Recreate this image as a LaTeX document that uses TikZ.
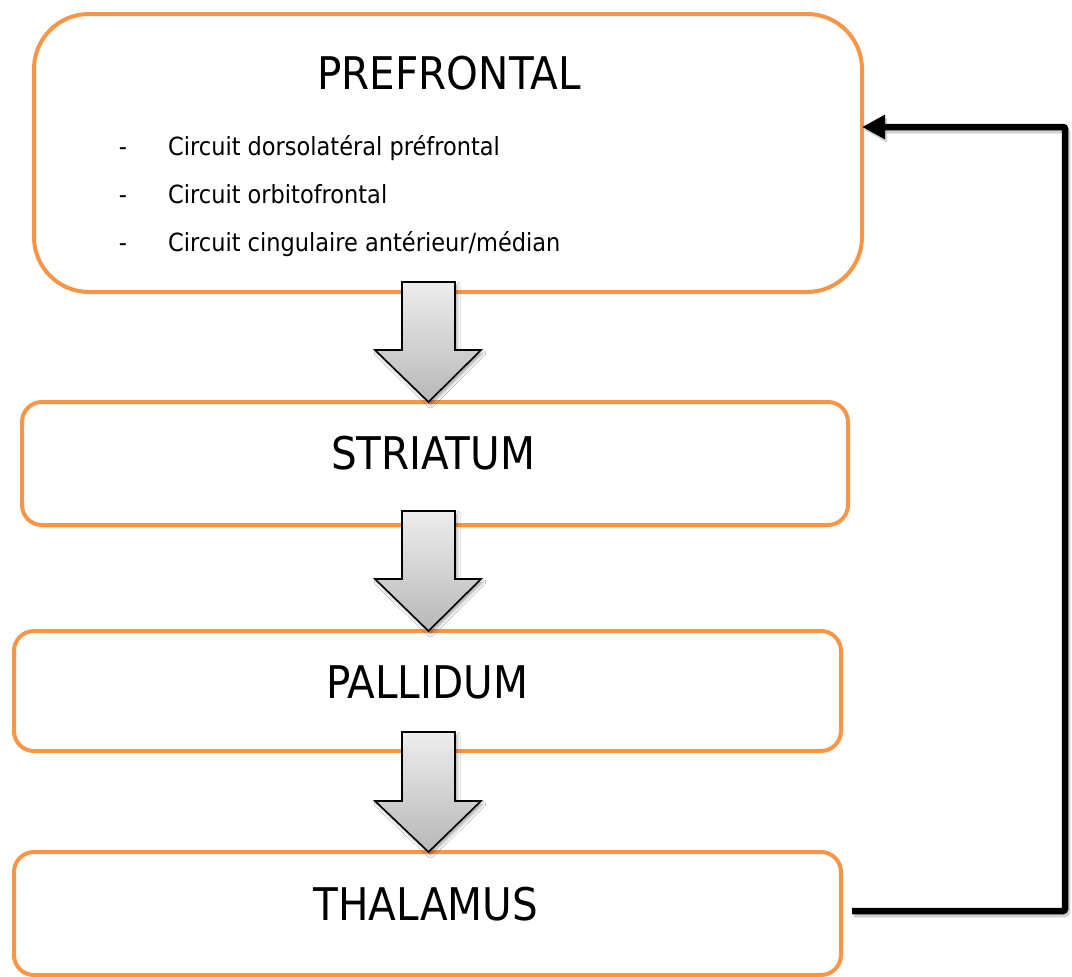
\documentclass[tikz,border=0pt]{standalone}
\usepackage{fontspec}
\setmainfont{DejaVu Sans Condensed}
\usetikzlibrary{arrows.meta,shadows.blur}
\definecolor{boxorange}{HTML}{F79646}
\newcommand\blockdown[3]{%
  \path[blockarr] (402,#1) -- (455,#1) -- (455,#2) -- (481,#2) -- (428.5,#3) -- (375,#2) -- (402,#2) -- cycle;}
\begin{document}
\begin{tikzpicture}[x=1pt,y=-1pt,
  box/.style={draw=boxorange, line width=4pt, rounded corners=20pt, fill=white,
    minimum width=827pt, minimum height=122pt, inner sep=0pt, outer sep=0pt},
  title/.style={font=\fontsize{45}{54}\selectfont, anchor=base, inner sep=0pt},
  item/.style={font=\fontsize{25}{30}\selectfont, anchor=base west, inner sep=0pt},
  blockarr/.style={draw=black, line width=1.6pt, line join=miter,
    top color=black!7, bottom color=black!28,
    blur shadow={shadow xshift=2pt, shadow yshift=-3pt, shadow blur radius=3pt, shadow opacity=35}},
  fb/.style={draw=black, line width=6.5pt, rounded corners=2pt, -{Triangle[length=23pt,width=23pt]}},
  fbshadow/.style={draw=black!40, opacity=0.45, line width=6.5pt, rounded corners=2pt, -{Triangle[length=23pt,width=23pt]}}]
\useasboundingbox (0,0) rectangle (1072,977);
\fill[white] (0,0) rectangle (1072,977);
% boxes
\node[box, rounded corners=55pt, minimum width=828pt, minimum height=278pt] (pf) at (448,153) {};
\node[box, minimum width=826pt, minimum height=123pt] (st) at (435,463.5) {};
\node[box, minimum height=120pt] (pa) at (427.5,691) {};
\node[box, minimum height=123pt] (th) at (427.5,913.5) {};
% titles
\node[title] (pft) at (449,89) {PREFRONTAL};
\node[title] (stt) at (433,469) {STRIATUM};
\node[title] (pat) at (427,698) {PALLIDUM};
\node[title] (tht) at (426,920) {THALAMUS};
% items
\node[item, anchor=base] (d1) at (123,155) {-};
\node[item, anchor=base] (d2) at (123,203) {-};
\node[item, anchor=base] (d3) at (123,251) {-};
\node[item] (i1) at (168,155) {Circuit dorsolatéral préfrontal};
\node[item] (i2) at (168,203) {Circuit orbitofrontal};
\node[item] (i3) at (168,251) {Circuit cingulaire antérieur/médian};
% block arrows
\blockdown{282}{350}{402}
\blockdown{511}{579}{631}
\blockdown{732}{801}{852}
% feedback connector
\coordinate (fbstart) at (852,911);
\coordinate (fbtop) at (1065,127);
\begin{scope}[transform canvas={xshift=2pt,yshift=-3pt}]
\draw[fbshadow] (fbstart) -| (fbtop) -- (pf.east |- fbtop);
\end{scope}
\draw[fb] (fbstart) -| (fbtop) -- (pf.east |- fbtop);
\end{tikzpicture}
\end{document}
